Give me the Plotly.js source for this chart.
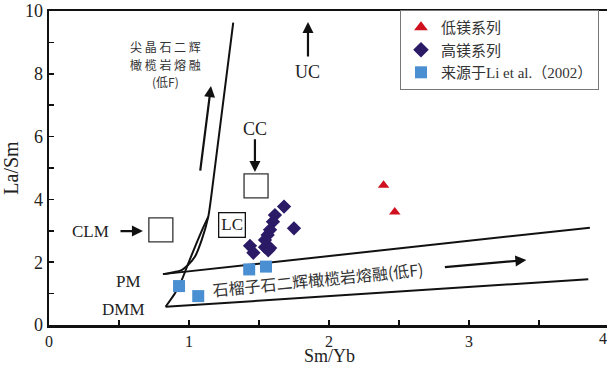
<!DOCTYPE html>
<html>
<head>
<meta charset="utf-8">
<script src="https://cdn.plot.ly/plotly-3.0.1.min.js"></script>
<style>html,body{margin:0;padding:0;background:#fff;}#chart{width:607px;height:367px;}</style>
</head>
<body>
<div id="chart"></div>
<script>
// ---- data ----
const lowMgX = [2.39, 2.47];
const lowMgY = [4.45, 3.60];
const highMgX = [1.679, 1.614, 1.600, 1.579, 1.562, 1.543, 1.750, 1.436, 1.460, 1.543, 1.580, 1.566];
const highMgY = [3.77, 3.50, 3.29, 3.03, 2.87, 2.71, 3.08, 2.52, 2.30, 2.48, 2.45, 2.38];
const liX = [0.929, 1.066, 1.430, 1.550];
const liY = [1.24, 0.92, 1.77, 1.86];
// spinel lherzolite melting curves
const spPMX = [0.814, 0.900, 0.948, 0.993, 1.043, 1.091, 1.138, 1.174, 1.316];
const spPMY = [1.62, 1.69, 1.75, 1.91, 2.18, 2.71, 3.45, 4.62, 9.63];
const spDMMX = [0.833, 0.900, 0.948, 0.995, 1.043, 1.091, 1.138];
const spDMMY = [0.58, 1.01, 1.43, 1.96, 2.49, 3.00, 3.45];
// garnet lherzolite melting lines
const gtUpX = [0.814, 3.864];
const gtUpY = [1.62, 3.10];
const gtLoX = [0.833, 3.852];
const gtLoY = [0.58, 1.46];
// reservoir boxes
const boxNames = ['CLM', 'CC'];
const boxX = [0.799, 1.479];
const boxY = [3.03, 4.43];
const xTickVals = [0, 0.5, 1, 1.5, 2, 2.5, 3, 3.5];
const xTickText = ['0', '', '1', '', '2', '', '3', ''];
const yTickVals = [0, 1, 2, 3, 4, 5, 6, 7, 8, 9, 10];
const yTickText = ['0', '', '2', '', '4', '', '6', '', '8', '', '10'];
const legendNames = ['低镁系列', '高镁系列', '来源于Li et al.（2002）'];
const spinelLabel = ['尖 晶 石 二 辉', '橄 榄 岩 熔 融', '(低F)'];
const xTitle = 'Sm/Yb';
const yTitle = 'La/Sm';

const serif = 'Liberation Serif, Noto Sans CJK SC, serif';
const cjk = 'Noto Sans CJK SC, sans-serif';
const lineStyle = {color: '#111', width: 2};

const traces = [
  {x: spPMX, y: spPMY, mode: 'lines', line: Object.assign({shape: 'spline', smoothing: 0.6}, lineStyle), showlegend: false, hoverinfo: 'skip'},
  {x: spDMMX, y: spDMMY, mode: 'lines', line: Object.assign({shape: 'spline', smoothing: 0.6}, lineStyle), showlegend: false, hoverinfo: 'skip'},
  {x: gtUpX, y: gtUpY, mode: 'lines', line: lineStyle, showlegend: false, hoverinfo: 'skip'},
  {x: gtLoX, y: gtLoY, mode: 'lines', line: lineStyle, showlegend: false, hoverinfo: 'skip'},
  {x: boxX, y: boxY, mode: 'markers', text: boxNames, showlegend: false,
   marker: {symbol: 'square-open', size: 24, color: '#333', line: {width: 1.3}}},
  {x: lowMgX, y: lowMgY, mode: 'markers', name: legendNames[0], legendgroup: 'a',
   marker: {symbol: 'triangle-up', size: 10, color: '#d0101e'}},
  {x: highMgX, y: highMgY, mode: 'markers', name: legendNames[1], legendgroup: 'b',
   marker: {symbol: 'diamond', size: 11, color: '#2b1a66'}},
  {x: liX, y: liY, mode: 'markers', name: legendNames[2], legendgroup: 'c',
   marker: {symbol: 'square', size: 12, color: '#4a8fd2'}}
];

function txt(x, y, text, size, family, extra) {
  return Object.assign({x: x, y: y, xref: 'x', yref: 'y', text: text, showarrow: false,
    font: {family: family, size: size, color: '#222'}}, extra || {});
}
function arrow(x0, y0, x1, y1) {
  return {x: x1, y: y1, ax: x0, ay: y0, xref: 'x', yref: 'y', axref: 'x', ayref: 'y',
    text: '', showarrow: true, arrowhead: 2, arrowsize: 1.0, arrowwidth: 2.2, arrowcolor: '#111'};
}
const cjkFont = {family: cjk, size: 12, color: '#333'};

const annotations = [
  txt(0.829, 8.87, spinelLabel[0], 12, cjk, {font: cjkFont}),
  txt(0.829, 8.31, spinelLabel[1], 12, cjk, {font: cjkFont}),
  txt(0.829, 7.75, spinelLabel[2], 12, cjk, {font: cjkFont}),
  arrow(1.079, 4.87, 1.157, 7.61),
  txt(1.85, 8.06, 'UC', 18, serif),
  arrow(1.85, 8.50, 1.85, 9.65),
  txt(1.471, 6.24, 'CC', 18, serif),
  arrow(1.471, 5.96, 1.471, 4.87),
  txt(0.293, 2.97, 'CLM', 17, serif),
  arrow(0.50, 2.99, 0.671, 2.99),
  txt(1.307, 3.18, 'LC', 17, serif, {bordercolor: '#111', borderwidth: 1.3, borderpad: 2, bgcolor: '#fff'}),
  txt(0.567, 1.38, 'PM', 17, serif),
  txt(0.531, 0.50, 'DMM', 17, serif),
  txt(1.924, 1.475, '石榴子石二辉橄榄岩熔融(低F)', 16, cjk, {textangle: -5.7, font: {family: cjk, size: 16, color: '#333'}}),
  arrow(2.817, 1.84, 3.41, 2.07),
  {x: 1.0036, y: 0, xref: 'paper', yref: 'paper', yanchor: 'top', yshift: -3, text: '4', showarrow: false,
   font: {family: serif, size: 16, color: '#222'}},
  {x: 0.502, y: 0, xref: 'paper', yref: 'paper', yanchor: 'middle', yshift: -31, borderpad: 0, text: xTitle, showarrow: false,
   font: {family: serif, size: 18, color: '#222'}}
];

const layout = {
  width: 607, height: 367,
  margin: {l: 49, r: 0, t: 11, b: 42},
  paper_bgcolor: '#fff', plot_bgcolor: '#fff',
  showlegend: true,
  legend: {x: 0.629, y: 1.003, xanchor: 'left', yanchor: 'top', bgcolor: '#fff',
    bordercolor: '#777', borderwidth: 1, tracegroupgap: 0, itemsizing: 'constant',
    font: {family: serif, size: 15, color: '#333'}},
  xaxis: {range: [0, 3.986], tickvals: xTickVals, ticktext: xTickText, ticks: 'inside', ticklen: 5,
    tickwidth: 1.5, tickcolor: '#111', showline: true, linewidth: 2.5, linecolor: '#111', mirror: true,
    showgrid: false, zeroline: false, tickfont: {family: serif, size: 16, color: '#222'}},
  yaxis: {range: [0, 10], tickvals: yTickVals, ticktext: yTickText, ticks: 'inside', ticklen: 5,
    tickwidth: 1.5, tickcolor: '#111', showline: true, linewidth: 2.5, linecolor: '#111',
    showgrid: false, zeroline: false, tickfont: {family: serif, size: 18, color: '#222'},
    title: {text: yTitle, font: {family: serif, size: 20, color: '#222'}, standoff: 6}},
  annotations: annotations
};

Plotly.newPlot('chart', traces, layout, {displayModeBar: false, staticPlot: true});
</script>
</body>
</html>
